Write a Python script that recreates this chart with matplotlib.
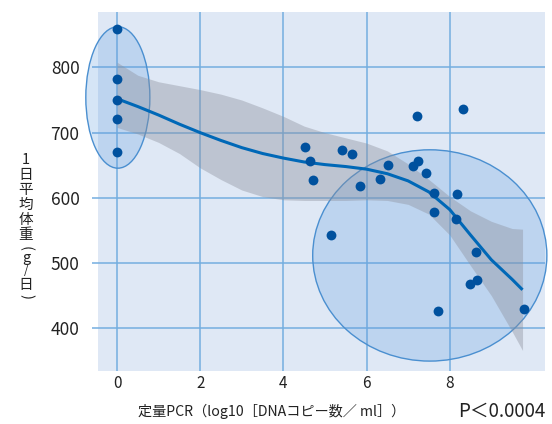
import numpy as np
import matplotlib
matplotlib.use("Agg")
import matplotlib.pyplot as plt
from matplotlib.patches import Ellipse

plt.rcParams['font.family'] = ['Noto Sans CJK JP', 'DejaVu Sans']

# scatter data: log10 DNA copies vs daily weight gain (g/day)
pcr = [0, 0, 0, 0, 0,
       4.52, 4.64, 4.72, 5.14, 5.41, 5.65, 5.84, 6.32, 6.51,
       7.12, 7.24, 7.21, 7.43, 7.62, 7.62, 8.32, 8.17, 8.15,
       8.63, 8.49, 8.65, 7.72, 9.78]
gain = [859, 782, 750, 721, 671,
        678, 657, 627, 543, 673, 667, 618, 629, 650,
        649, 657, 726, 638, 608, 578, 736, 606, 568,
        517, 468, 474, 427, 430]

# smoothed fit and its confidence band
fit_x = [0, 0.5, 1, 1.5, 2, 2.5, 3, 3.5, 4, 4.5, 5, 5.5, 6, 6.5,
         7, 7.5, 8, 8.5, 9, 9.5, 9.75]
fit_y = [752, 740, 727, 713, 700, 688, 677, 668, 661, 655, 651, 648, 644, 637,
         626, 609, 582, 543, 505, 475, 459]
band_hi = [808, 788, 778, 772, 766, 759, 750, 738, 725, 710, 700, 692, 684, 672,
           652, 628, 602, 580, 564, 553, 552]
band_lo = [708, 698, 685, 668, 646, 628, 612, 602, 597, 596, 596, 596, 597, 596,
           590, 575, 543, 496, 450, 395, 366]

xticks = [0, 2, 4, 6, 8]
yticks = [400, 500, 600, 700, 800]

bg = '#dfe8f5'
grid_c = '#74aee0'
dot_c = '#00519e'
line_c = '#0068b7'

fig = plt.figure(figsize=(5.52, 4.24), dpi=100)
ax = fig.add_axes([98/552, 1-371/424, (545-98)/552, (371-12)/424])
ax.set_facecolor(bg)
ax.set_xlim(-0.457, 10.29)
ax.set_ylim(334.5, 885)
for s in ax.spines.values():
    s.set_visible(False)

ax.set_xticks(xticks)
ax.set_yticks(yticks)
ax.grid(True, color=grid_c, linewidth=1.1, zorder=0)
ax.set_axisbelow(True)
ax.tick_params(axis='x', length=0, pad=3, labelsize=11, labelcolor='#222222')
ax.tick_params(axis='y', length=4.3, width=1.1, color=grid_c, pad=9,
               labelsize=12.5, labelcolor='#222222')

# highlight ellipses
ax.add_patch(Ellipse((0.02, 754), 1.54, 217, facecolor='#5b9bdf', alpha=0.25,
                     edgecolor='none', zorder=1, clip_on=False))
ax.add_patch(Ellipse((0.02, 754), 1.54, 217, facecolor='none',
                     edgecolor='#4a8fd0', linewidth=1.0, zorder=1, clip_on=False))
ax.add_patch(Ellipse((7.52, 511.7), 5.63, 324, facecolor='#5b9bdf', alpha=0.25,
                     edgecolor='none', zorder=1, clip_on=False))
ax.add_patch(Ellipse((7.52, 511.7), 5.63, 324, facecolor='none',
                     edgecolor='#4a8fd0', linewidth=1.0, zorder=1, clip_on=False))

ax.fill_between(fit_x, band_lo, band_hi, color='#8c909c', alpha=0.4,
                linewidth=0, zorder=2)
ax.plot(fit_x, fit_y, color=line_c, linewidth=2.2, zorder=3,
        solid_capstyle='butt', solid_joinstyle='round')
ax.scatter(pcr, gain, s=50, color=dot_c, zorder=4, linewidths=0)

# vertical y label, one character per line (brackets turned for vertical writing)
ylab = ['1', '日', '平', '均', '体', '重', '(', 'g', '/', '日', ')']
yrot = [0, 0, 0, 0, 0, 0, -90, 0, 0, 0, -90]
ysize = [10.5, 10.5, 10.5, 10.5, 10.5, 10.5, 10.5, 10.5, 8.5, 10.5, 10.5]
ypos = [160, 175, 190, 205, 220, 235, 248, 258, 271, 285, 296]
for ch, rot, fs, py in zip(ylab, yrot, ysize, ypos):
    fig.text(26/552, 1-py/424, ch, ha='center', va='center', fontsize=fs,
             rotation=rot, color='#222222')

fig.text(272/552, 1-411/424, '定量PCR（log10［DNAコピー数／ ml］）',
         ha='center', va='center', fontsize=10.2, color='#222222')
fig.text(545/552, 1-411/424, 'P＜0.0004', ha='right', va='center',
         fontsize=13.5, color='#222222')

fig.savefig('out.png', dpi=100, facecolor='white')
